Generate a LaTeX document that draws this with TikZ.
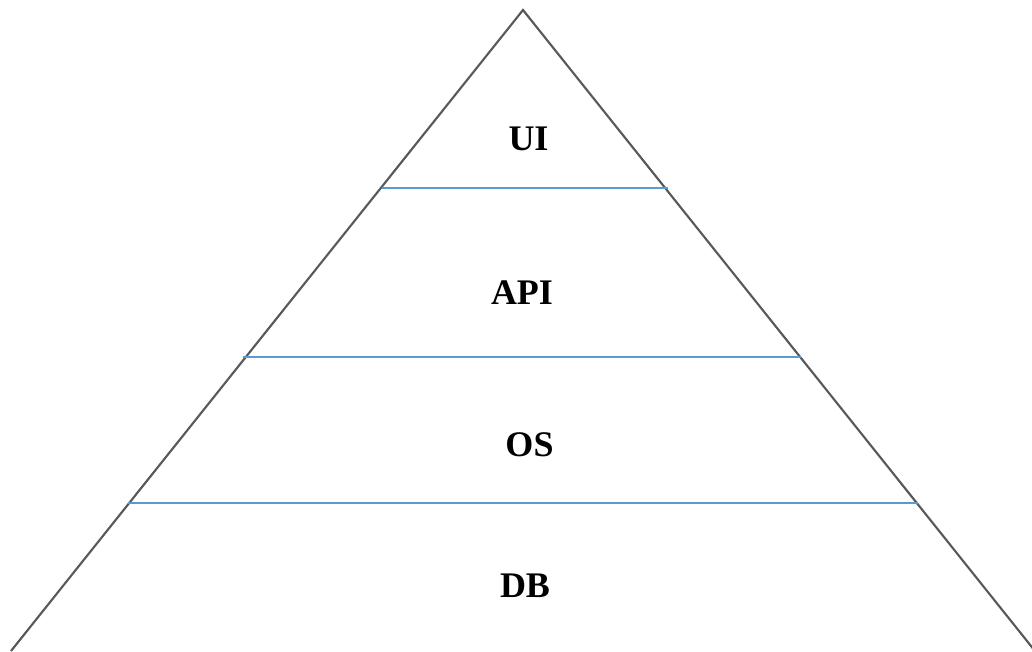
\documentclass[tikz,border=0pt]{standalone}
\usepackage{fontspec}
\setmainfont{Liberation Serif}
\definecolor{edgegray}{HTML}{595959}
\definecolor{tierblue}{HTML}{5B9BD5}
\begin{document}
\begin{tikzpicture}[x=0.75pt,y=-0.75pt,
  edge/.style={draw=edgegray,line width=1.6pt,line join=miter},
  tier/.style={draw=tierblue,line width=0.8pt},
  label/.style={font=\bfseries\fontsize{27}{32}\selectfont,inner sep=0pt,anchor=base}]
\useasboundingbox (0,0) rectangle (1032,651);
\clip (0,0) rectangle (1032,651);
% pyramid outline
\coordinate (apex) at (523,10);
\coordinate (bl) at (11,651);
\coordinate (br) at (1035,651);
\draw[edge] (bl) -- (apex) -- (br);
% tier separators
\coordinate (s1l) at (382,188);
\coordinate (s1r) at (668,188);
\coordinate (s2l) at (243,357);
\coordinate (s2r) at (801,357);
\coordinate (s3l) at (128,503);
\coordinate (s3r) at (918,503);
\draw[tier] (s1l) -- (s1r);
\draw[tier] (s2l) -- (s2r);
\draw[tier] (s3l) -- (s3r);
% tier labels
\node[label] (ui) at (528.5,150) {UI};
\node[label] (api) at (522,304) {API};
\node[label] (os) at (529.5,456.5) {OS};
\node[label] (db) at (525,597) {DB};
\end{tikzpicture}
\end{document}
